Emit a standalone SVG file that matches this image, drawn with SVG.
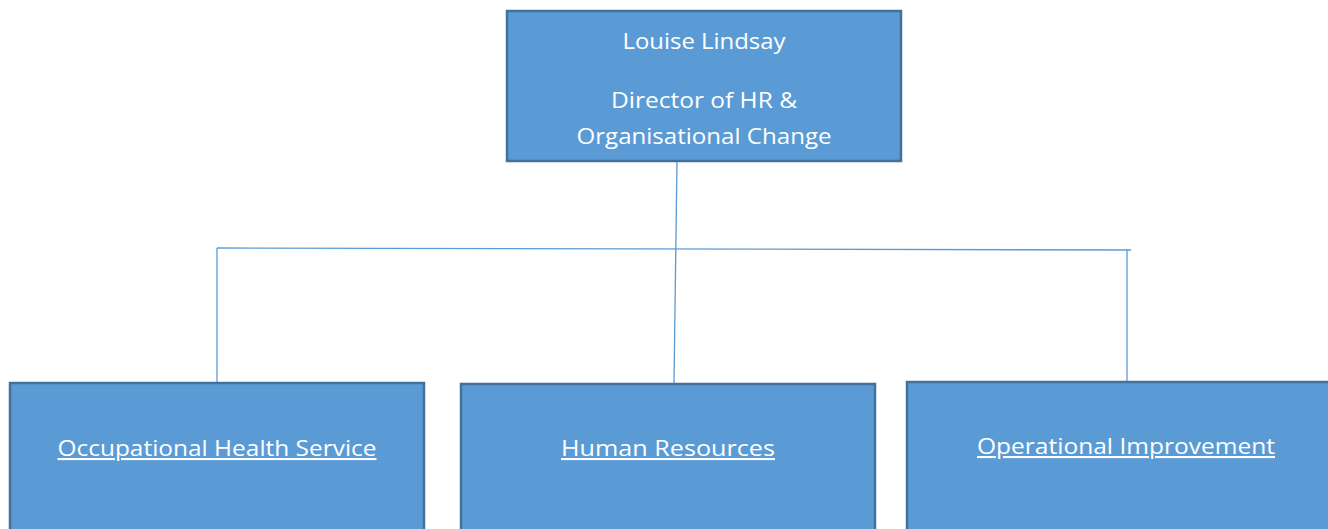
<svg xmlns="http://www.w3.org/2000/svg" width="1328" height="529" viewBox="0 0 1328 529">
<style>
.box{fill:#5B9BD5;stroke:#41719C;stroke-width:2.5}
.t{font-family:"Open Sans","Liberation Sans",Arial,sans-serif;font-size:21px;fill:#FFFFFF;text-anchor:middle}
.u{text-decoration:underline}
.c{stroke:#5B9BD5;stroke-width:1.3;fill:none}
</style>
<rect width="1328" height="529" fill="#FFFFFF"/>
<g id="connectors">
<path class="c" d="M677 161 L674 383"/>
<path class="c" d="M217 248 L1131 250"/>
<path class="c" d="M217 248 L217 383"/>
<path class="c" d="M1127 250 L1127 381"/>
</g>
<g id="director">
<rect class="box" x="507" y="11" width="394" height="150"/>
<text class="t" x="704" y="49" textLength="163" lengthAdjust="spacingAndGlyphs">Louise Lindsay</text>
<text class="t" x="704" y="108" textLength="186" lengthAdjust="spacingAndGlyphs">Director of HR &amp;</text>
<text class="t" x="704" y="144" textLength="255" lengthAdjust="spacingAndGlyphs">Organisational Change</text>
</g>
<g id="ohs">
<rect class="box" x="10" y="383" width="414" height="160"/>
<text class="t u" x="217" y="456" textLength="319" lengthAdjust="spacingAndGlyphs">Occupational Health Service</text>
</g>
<g id="hr">
<rect class="box" x="461" y="384" width="414" height="160"/>
<text class="t u" x="668" y="456" textLength="214" lengthAdjust="spacingAndGlyphs">Human Resources</text>
</g>
<g id="oi">
<rect class="box" x="907" y="382" width="430" height="160"/>
<text class="t u" x="1126" y="454" textLength="298" lengthAdjust="spacingAndGlyphs">Operational Improvement</text>
</g>
</svg>
